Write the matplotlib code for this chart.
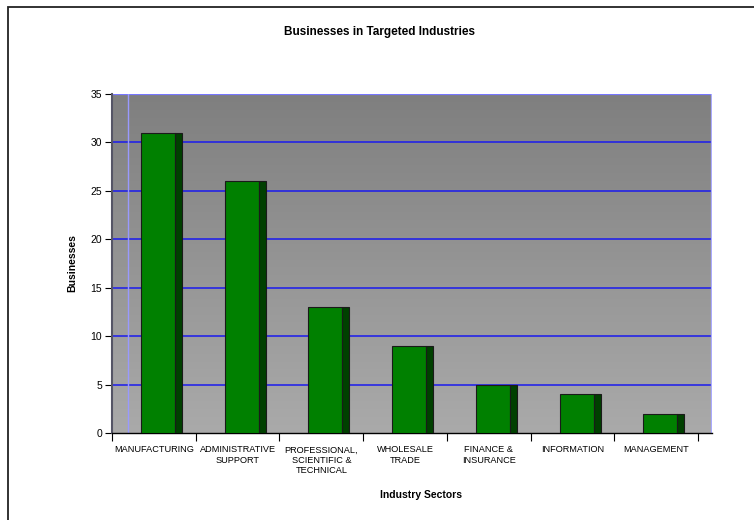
import matplotlib as mpl
import matplotlib.pyplot as plt
import numpy as np
from matplotlib.patches import Rectangle

sectors = ['MANUFACTURING', 'ADMINISTRATIVE\nSUPPORT',
           'PROFESSIONAL,\nSCIENTIFIC &\nTECHNICAL', 'WHOLESALE\nTRADE',
           'FINANCE &\nINSURANCE', 'INFORMATION', 'MANAGEMENT']
businesses = [31, 26, 13, 9, 5, 4, 2]
y_ticks = [0, 5, 10, 15, 20, 25, 30, 35]


def main():
    mpl.rcParams['font.family'] = ['Liberation Sans', 'DejaVu Sans']
    W, H = 754, 520
    fig = plt.figure(figsize=(W / 100, H / 100), dpi=100)
    ax = fig.add_axes([112 / W, 1 - 433 / H, 600 / W, 339 / H])

    n = len(sectors)
    cat = 83.7  # px per category
    xmax = n + 14 / cat  # 3d depth past the last category
    ax.set_xlim(0, xmax)
    ax.set_ylim(0, 35)

    # gradient background
    grad = np.linspace(0, 1, 256).reshape(-1, 1)
    cmap = mpl.colors.LinearSegmentedColormap.from_list(
        'bg', ['#aaaaaa', '#7f7f7f'])
    ax.imshow(grad, extent=[0, xmax, 0, 35], origin='lower', cmap=cmap,
              aspect='auto', zorder=0)

    for y in y_ticks[1:-1]:
        ax.axhline(y, color='#1a1aee', lw=1.1, zorder=1)
    ax.axhline(35, color='#7777ff', lw=1.6, zorder=1)
    ax.axvline(16 / cat, color='#9999ff', lw=1.0, zorder=1)
    ax.axvline(xmax, color='#aaaaff', lw=1.6, zorder=1)

    x = np.arange(n)
    front_left, front_w, side_w = 29 / cat, 34 / cat, 7 / cat
    ax.bar(x + front_left, businesses, width=front_w, align='edge',
           color='#008000', edgecolor='#1a1a1a', linewidth=0.8, zorder=3)
    ax.bar(x + front_left + front_w, businesses, width=side_w, align='edge',
           color='#004000', edgecolor='#1a1a1a', linewidth=0.8, zorder=3)

    for s in ['top', 'right']:
        ax.spines[s].set_visible(False)
    ax.spines['left'].set_color('#555566')
    ax.spines['left'].set_linewidth(1.5)
    ax.spines['bottom'].set_color('black')
    ax.spines['bottom'].set_linewidth(1.0)

    ax.set_yticks(y_ticks)
    ax.tick_params(axis='y', length=5, width=0.8, labelsize=7.5, pad=2)
    ax.set_xticks(np.arange(n + 1))
    ax.set_xticklabels([])
    ax.tick_params(axis='x', length=6, width=0.8)
    ax.set_xticks(x + 0.5, minor=True)
    ax.set_xticklabels(sectors, minor=True, fontsize=6.6, va='top',
                       linespacing=1.15)
    ax.tick_params(axis='x', which='minor', length=0, pad=9)

    ax.set_ylabel('Businesses', fontsize=7.5, fontweight='bold', labelpad=14)
    ax.yaxis.set_label_coords(-35 / 600, 0.5)
    fig.text(421 / W, 1 - 495 / H, 'Industry Sectors', fontsize=7.5,
             fontweight='bold', ha='center', va='center')
    fig.text(380 / W, 1 - 32 / H, 'Businesses in Targeted Industries',
             fontsize=8.5, fontweight='bold', ha='center', va='center')

    frame = Rectangle((7.5 / W, -0.1), 1.2, 1 - 7.5 / H + 0.1,
                      transform=fig.transFigure, fill=False,
                      edgecolor='#222222', lw=1.3, clip_on=False)
    fig.patches.append(frame)

    fig.savefig('out.png', dpi=100)


if __name__ == '__main__':
    main()
